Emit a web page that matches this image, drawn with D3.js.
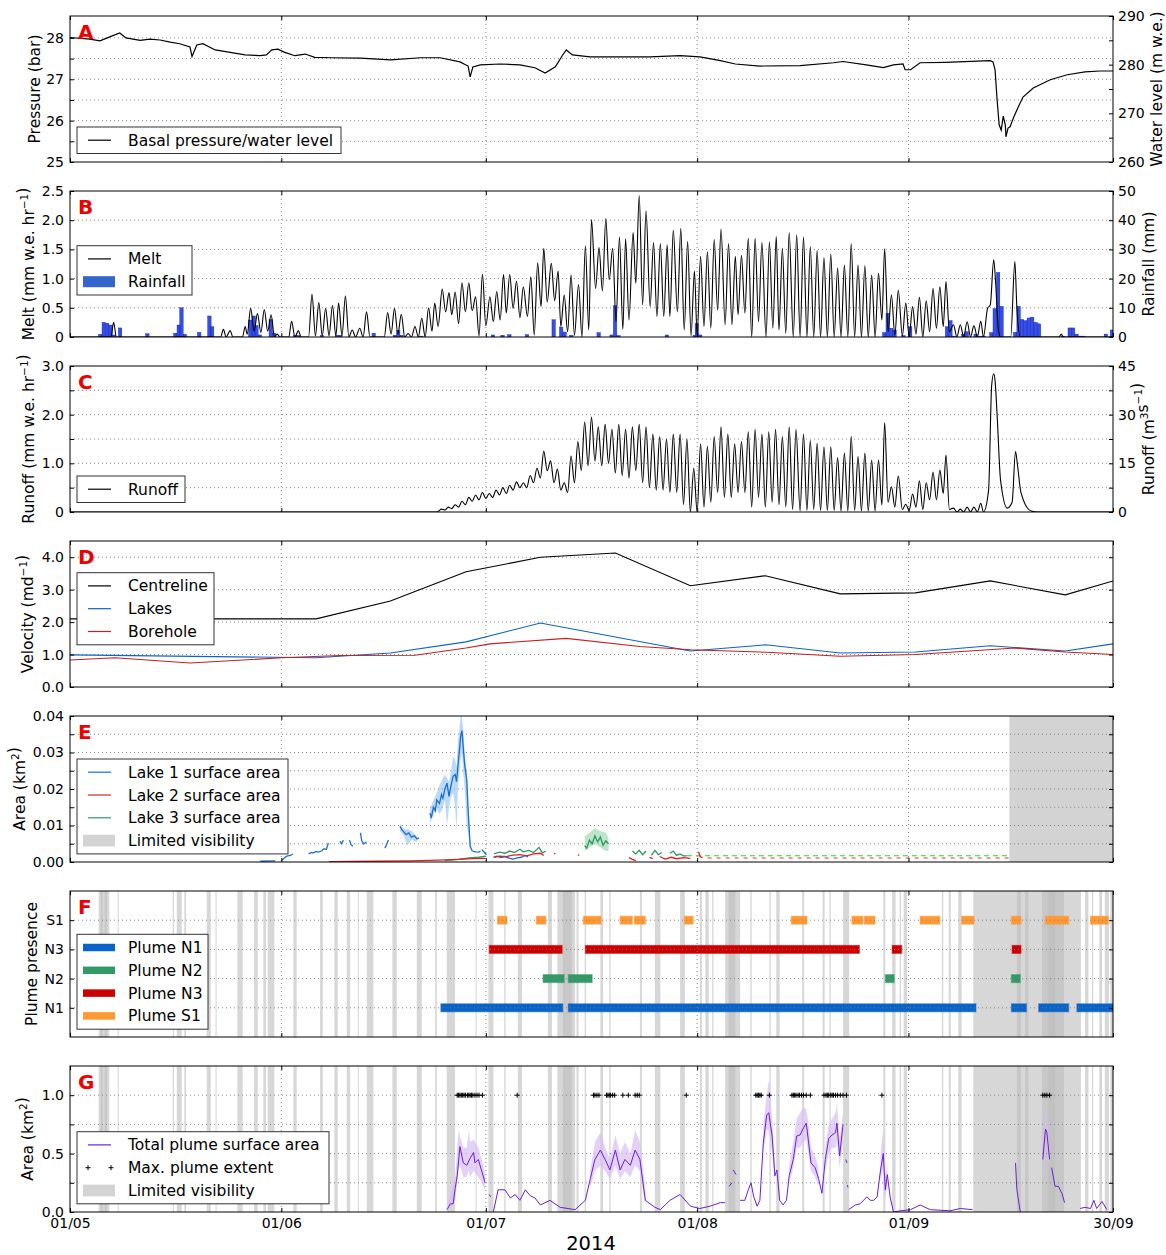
<!DOCTYPE html>
<html>
<head>
<meta charset="utf-8">
<title>Basal pressure, melt, runoff, velocity, lakes and plumes, 2014</title>
<script src="https://cdn.jsdelivr.net/npm/d3@7"></script>
<style>
  body { margin: 0; background: #fff; }
  text { font-family: "DejaVu Sans", sans-serif; }
</style>
</head>
<body>
<svg id="chart" width="1166" height="1255"></svg>
<script>
// all times are days since 01/05/2014 00:00
const dateTicks = [0, 31, 61, 92, 123, 153];
const dateLabels = ["01/05", "01/06", "01/07", "01/08", "01/09", "30/09"];

// A: basal pressure (bar)
const pressure = [
  [0,28.01],[2.9,27.97],[4.4,27.93],[6.2,28.05],[7.3,28.12],[8.2,28.0],[10.3,27.94],[11.7,27.97],
  [13.2,27.95],[14.7,27.90],[16.1,27.86],[17.6,27.78],[17.9,27.55],[18.6,27.83],[19.5,27.86],
  [21.3,27.71],[23.5,27.65],[25.7,27.59],[27.9,27.57],[28.8,27.59],[29.6,27.71],[30.5,27.73],
  [31.5,27.65],[33.0,27.57],[34.5,27.61],[35.9,27.53],[38.2,27.52],[42.6,27.51],[47.0,27.47],
  [51.4,27.52],[54.3,27.52],[57.2,27.42],[58.4,27.32],[58.7,27.06],[59.1,27.30],[60.2,27.35],
  [63.1,27.37],[66.0,27.35],[68.2,27.28],[69.7,27.15],[71.2,27.30],[72.2,27.57],[72.8,27.71],
  [73.7,27.59],[76.3,27.54],[80.7,27.54],[85.1,27.54],[89.5,27.57],[92.4,27.54],[95.4,27.45],
  [97.6,27.37],[101.2,27.32],[107.1,27.33],[112.0,27.40],[113.4,27.43],[116.8,27.35],[119.3,27.28],
  [120.8,27.35],[122.2,27.37],[122.5,27.23],[123.3,27.23],[124.7,27.40],[128.4,27.41],[135.0,27.45],
  [135.4,27.42],[135.7,27.23],[136.0,26.50],[136.3,25.90],[136.6,25.77],[136.9,26.11],[137.2,25.90],
  [137.3,25.61],[137.6,25.82],[137.9,25.85],[138.4,26.07],[139.1,26.33],[139.8,26.57],[141.3,26.79],
  [143.8,26.99],[146.3,27.11],[148.9,27.18],[151.1,27.20],[153.0,27.20]
];

// B: melt (mm w.e. hr-1), alternating daily troughs and peaks
const melt = [
  [0,0],[6.0,0],[6.4,0.25],[6.8,0],[22.1,0],[22.5,0.13],[22.9,0],[23.5,0.11],[23.9,0],[25.3,0],
  [25.7,0.18],[26.0,0.05],[26.5,0.49],[27.0,0.1],[27.5,0.40],[28.0,0.08],[28.5,0.47],[29.0,0.1],
  [29.5,0.38],[30.0,0],[30.4,0.05],[30.8,0],[32.1,0],[32.5,0.27],[33.0,0],[33.5,0.11],[33.9,0],
  [35.0,0],[35.5,0.73],[36.0,0.02],[36.5,0.59],[37.0,0.02],[37.5,0.49],[38.0,0.02],[38.5,0.54],
  [39.0,0.02],[39.4,0.58],[39.9,0.02],[40.4,0.70],[40.9,0],[41.4,0.12],[41.9,0],[42.5,0.15],
  [43.0,0],[43.5,0.43],[44.0,0],[46.1,0],[46.6,0.42],[47.1,0.05],[47.6,0.49],[48.1,0.05],
  [48.6,0.39],[49.1,0],[49.6,0.06],[50.1,0],[50.6,0.18],[51.1,0],[51.6,0.32],[52.1,0],[52.6,0.50],
  [53.1,0.1],[53.5,0.58],[54.0,0.18],[54.6,0.82],[55.1,0.43],[55.6,0.76],[56.0,0.38],[56.5,0.77],
  [57.0,0.23],[57.5,0.93],[58.0,0.43],[58.5,0.93],[59.0,0.45],[59.5,0.69],[60.0,0.02],[60.5,1.08],
  [61.0,0.19],[61.6,0.69],[62.1,0.26],[62.6,0.78],[63.1,0.29],[63.6,1.07],[64.0,0.41],[64.5,1.07],
  [65.0,0.49],[65.5,0.96],[66.0,0.33],[66.5,0.86],[67.1,0.35],[67.6,1.03],[68.1,0.03],[68.6,1.27],
  [69.1,0.52],[69.5,1.52],[70.0,0.60],[70.6,1.26],[71.1,0.62],[71.6,1.13],[72.0,0.18],[72.5,0.72],
  [73.0,0.09],[73.5,1.06],[74.0,0.03],[74.6,0.90],[75.1,0.0],[75.6,1.56],[76.1,0.12],[76.5,2.01],
  [77.1,0.83],[77.6,1.53],[78.1,0.79],[78.6,2.03],[79.1,0.98],[79.6,1.52],[80.1,0.26],[80.6,1.71],
  [81.1,0.13],[81.5,1.68],[82.0,0.29],[82.6,1.79],[83.0,0.92],[83.5,2.42],[84.0,0.55],[84.5,2.16],
  [85.1,0.52],[85.6,1.62],[86.1,0.35],[86.6,1.60],[87.1,0.35],[87.6,1.58],[88.0,0.35],[88.5,1.83],
  [89.1,0.43],[89.6,1.86],[90.1,0.12],[90.6,1.64],[91.1,0.02],[91.6,1.13],[92.0,0.03],[92.5,1.38],
  [93.0,0.18],[93.5,1.46],[94.0,0.15],[94.5,1.67],[95.0,0.46],[95.5,1.85],[96.1,0.21],[96.6,1.60],
  [97.1,0.21],[97.6,1.38],[98.0,0.38],[98.5,1.40],[99.0,0.41],[99.5,1.69],[100.0,0],[100.5,1.69],
  [101.0,0.26],[101.5,1.62],[102.1,0],[102.6,1.63],[103.1,0.15],[103.6,1.72],[104.0,0.12],[104.5,1.52],
  [105.0,0.06],[105.5,1.79],[106.1,0],[106.6,1.75],[107.1,0],[107.6,1.71],[108.1,0],[108.6,1.55],
  [109.1,0],[109.6,1.48],[110.1,0],[110.6,1.36],[111.1,0],[111.6,1.42],[112.1,0],[112.6,1.18],
  [113.1,0],[113.6,1.23],[114.1,0],[114.6,1.60],[115.1,0],[115.6,1.23],[116.1,0],[116.6,1.22],
  [117.1,0],[117.6,1.06],[118.1,0],[118.6,1.09],[119.1,0.29],[119.5,1.51],[120.0,0.09],[120.5,0.72],
  [121.0,0.03],[121.5,0.80],[122.1,0.02],[122.6,0.58],[123.1,0],[123.6,0.52],[124.1,0.05],[124.6,0.68],
  [125.1,0],[125.6,0.62],[126.1,0.09],[126.6,0.83],[127.1,0.15],[127.6,0.86],[128.1,0.18],[128.5,0.95],
  [129.0,0.09],[129.6,0.21],[130.1,0],[130.6,0.21],[131.1,0],[131.6,0.26],[132.1,0],[132.6,0.19],
  [133.1,0],[133.6,0.27],[134.0,0],[134.6,0.49],[135.0,0.55],[135.5,1.32],[135.8,0.9],[136.2,0.1],
  [136.5,0],[138.0,0],[138.6,1.29],[138.9,0.5],[139.4,0],[145.1,0],[145.4,0.05],[145.7,0],[153,0]
];

// B: rainfall (mm per half day), [bin start, mm]
const rainfall = [
  [4.2,0.9],[4.7,5.0],[5.2,4.7],[5.7,4.1],[6.2,0.7],[7.1,3.1],[11.1,1.1],[15.2,1.3],[15.7,4.1],
  [16.1,10.0],[16.6,0.9],[18.7,1.6],[20.2,7.2],[20.6,3.5],[26.2,5.8],[26.7,7.2],[27.1,3.9],[27.6,0.7],
  [29.2,6.0],[29.7,1.3],[32.8,0.5],[33.3,0.5],[36.7,0.5],[38.9,0.6],[39.4,0.6],[44.3,1.3],[47.4,0.6],
  [47.9,2.2],[48.4,0.6],[51.3,0.3],[61.8,0.7],[63.2,0.6],[64.2,0.8],[66.8,0.8],[70.7,5.9],[71.8,3.4],
  [72.3,1.7],[73.3,0.6],[77.3,1.5],[79.2,0.7],[79.7,10.7],[80.2,0.5],[87.3,0.7],[91.4,0.6],[91.7,4.6],
  [92.2,0.7],[119.2,1.5],[119.7,8.1],[120.2,3.0],[120.7,2.4],[122.0,0.5],[123.0,3.5],[128.4,3.5],
  [128.9,5.6],[129.4,0.3],[130.8,1.0],[131.3,1.8],[132.6,1.0],[133.3,0.3],[133.8,0.3],[134.9,1.5],
  [135.4,9.7],[135.9,22.1],[136.4,10.5],[138.4,1.6],[138.9,10.5],[139.4,6.0],[139.9,5.6],[140.4,6.5],
  [140.9,6.8],[141.4,5.0],[141.9,4.5],[145.4,0.3],[146.4,3.1],[146.9,3.1],[147.4,1.0],[147.9,0.3],
  [148.4,0.3],[151.7,1.0],[152.6,2.4]
];

// C: runoff (mm w.e. hr-1)
const runoff = [
  [0,0],[53.8,0],[54.5,0.06],[55,0.04],[55.5,0.1],[56,0.07],[56.5,0.15],[57,0.1],[57.5,0.22],[58,0.15],
  [58.5,0.3],[59,0.22],[59.5,0.35],[60,0.25],[60.5,0.4],[61,0.28],[61.5,0.38],[62,0.3],[62.5,0.45],
  [63,0.35],[63.5,0.5],[64,0.38],[64.5,0.55],[65,0.45],[65.5,0.62],[66,0.5],[66.5,0.6],[67,0.5],
  [67.5,0.75],[68,0.6],[68.5,0.9],[69,0.7],[69.5,1.25],[70,0.85],[70.5,1.05],[71,0.6],[71.5,0.88],
  [72,0.45],[72.5,0.6],[73,0.4],[73.5,1.15],[74,0.6],[74.5,1.45],[75,0.85],[75.5,1.85],[76,0.95],
  [76.5,1.95],[77,1.05],[77.5,1.75],[78,0.95],[78.5,1.8],[79,1.0],[79.5,1.7],[80,0.8],[80.5,1.8],
  [81,0.75],[81.5,1.7],[82,0.7],[82.5,1.75],[83,0.85],[83.5,1.8],[84,0.6],[84.5,1.75],[85,0.5],
  [85.5,1.6],[86,0.45],[86.5,1.55],[87,0.45],[87.5,1.5],[88,0.4],[88.5,1.6],[89,0.4],[89.5,1.6],
  [90,0.15],[90.5,1.5],[91,0],[91.5,0.9],[92,0],[92.5,1.4],[93,0.1],[93.5,1.35],[94,0.2],[94.5,1.55],
  [95,0.4],[95.5,1.75],[96,0.3],[96.5,1.6],[97,0.3],[97.5,1.4],[98,0.4],[98.5,1.45],[99,0.4],
  [99.5,1.65],[100,0.1],[100.5,1.7],[101,0.3],[101.5,1.6],[102,0.1],[102.5,1.65],[103,0.2],[103.5,1.7],
  [104,0.15],[104.5,1.55],[105,0.1],[105.5,1.75],[106,0.05],[106.5,1.7],[107.1,0.02],[107.6,1.60],
  [108.1,0.03],[108.6,1.47],[109.1,0.05],[109.6,1.41],[110.1,0.03],[110.6,1.34],[111.1,0.03],[111.6,1.34],
  [112.1,0.03],[112.6,1.12],[113.1,0.02],[113.6,1.21],[114.1,0.02],[114.6,1.55],[115.1,0.03],[115.6,1.14],
  [116.1,0.02],[116.6,1.21],[117.1,0.02],[117.6,1.07],[118.1,0.02],[118.6,1.07],[119.1,0.14],[119.5,1.84],
  [120.0,0.2],[120.5,0.52],[121.0,0.1],[121.5,0.74],[122.1,0.05],[122.6,0.16],[123.1,0.03],[123.6,0.37],
  [124.1,0.1],[124.6,0.64],[125.1,0.05],[125.6,0.60],[126.1,0.25],[126.6,0.82],[127.1,0.25],[127.6,0.86],
  [128.1,0.38],[128.5,1.17],[129.0,0.05],[129.6,0.08],[130.1,0],[130.6,0.06],[131.1,0],[131.6,0.1],
  [132.1,0],[132.6,0.1],[133.1,0],[133.6,0.18],[134.0,0],[134.75,0.45],[135.2,2.6],[135.5,2.84],
  [135.7,2.7],[136.0,2.0],[136.5,0.66],[137.5,0.08],[138.2,0.2],[138.7,1.24],[139.0,0.95],[139.5,0.4],
  [141.0,0.02],[142,0],[153,0]
];

// D: velocity (m d-1)
const velDays   = [0, 36.1, 47.0, 58.1, 69.0, 80.0, 91.0, 102.0, 113.0, 124.0, 135.0, 146.0, 153];
const centreline = [2.1, 2.1, 2.65, 3.55, 4.0, 4.13, 3.12, 3.43, 2.87, 2.9, 3.27, 2.84, 3.27];
const lakesVel   = [0.99, 0.9, 1.05, 1.39, 1.97, 1.54, 1.11, 1.3, 1.05, 1.08, 1.27, 1.11, 1.33];
const boreDays  = [0, 6.6, 17.6, 31.1, 39.6, 50.6, 58.1, 61.6, 72.8, 83.6, 91.0, 101.2, 113.0, 124.0, 138.7, 146.0, 153];
const borehole  = [0.83, 0.9, 0.74, 0.9, 0.97, 0.98, 1.2, 1.33, 1.5, 1.25, 1.15, 1.08, 0.95, 1.0, 1.2, 1.08, 1.0];

// E: lake surface areas (km2), null = gap
const lake1 = [
  [27.9,0.0002],[30.1,0.0003],null,
  [31.1,0.0005],[31.5,0.0012],[31.8,0.0016],[32.3,0.0018],[32.7,0.0022],null,
  [35.0,0.0022],[35.4,0.0026],[35.7,0.0025],[36.1,0.0029],[36.4,0.0027],[36.9,0.0030],[37.2,0.0036],[37.6,0.0035],[37.9,0.0052],null,
  [39.6,0.0057],[39.8,0.0050],[40.1,0.0060],null,
  [41.0,0.0060],[41.2,0.0048],[41.5,0.0043],null,
  [42.6,0.0080],[42.8,0.0058],[43.1,0.0050],[43.5,0.0055],null,
  [46.2,0.0038],[46.5,0.0050],[46.7,0.0060],null,
  [48.4,0.0098],[48.7,0.0088],[49.0,0.0082],[49.3,0.0075],[49.7,0.0080],[50.1,0.0068],[50.5,0.0072],[50.9,0.0063],[51.2,0.0066],null,
  [52.8,0.0134],[53.0,0.0120],[53.3,0.0150],[53.6,0.0140],[53.8,0.0170],[54.2,0.0160],[54.5,0.0185],[54.7,0.0175],
  [55.0,0.0200],[55.3,0.0216],[55.6,0.0180],[55.9,0.0210],[56.2,0.0235],[56.5,0.0240],[56.7,0.0220],[56.9,0.0262],
  [57.1,0.0300],[57.3,0.0345],[57.5,0.0360],[57.7,0.0310],[57.9,0.0265],[58.2,0.0225],[58.4,0.0143],[58.7,0.0043],
  [59.0,0.0030],[59.5,0.0028],[60.0,0.0027],[60.2,0.0030],null,
  [60.4,0.0034],[60.7,0.0028],[61.1,0.0020],null,
  [62.1,0.0013],[62.6,0.0016],[63.2,0.0012],[63.8,0.0015],[64.5,0.0010],[65.0,0.0008],[65.6,0.0011],[66.2,0.0013],[66.8,0.0018],[67.2,0.0014]
];
const lake1Band = [
  [48.4,0.0085,0.0105],[49.0,0.0070,0.0090],[49.5,0.0045,0.0090],[50.1,0.0060,0.0085],[50.9,0.0055,0.0070],null,
  [52.8,0.0105,0.0145],[53.3,0.0130,0.0170],[53.8,0.0150,0.0190],[54.2,0.0130,0.0210],[54.7,0.0150,0.0230],
  [55.0,0.0170,0.0240],[55.3,0.0100,0.0230],[55.6,0.0150,0.0220],[55.9,0.0180,0.0250],[56.2,0.0190,0.0290],
  [56.5,0.0150,0.0280],[56.7,0.0080,0.0260],[56.9,0.0200,0.0330],[57.1,0.0240,0.0360],[57.3,0.0280,0.0400],
  [57.5,0.0300,0.0400],[57.7,0.0240,0.0360],[57.9,0.0200,0.0300],[58.2,0.0100,0.0250],[58.4,0.0080,0.0170],
  [58.7,0.0030,0.0060]
];
const lake2 = [
  [38,0.0001],[45,0.0002],[50,0.0003],[54,0.0005],[57,0.0007],[59,0.0009],[61,0.0010],null,
  [62.2,0.0013],[63,0.0016],[64,0.0015],[65,0.0019],[66,0.0020],[67,0.0017],[68,0.0022],[69,0.0024],[69.5,0.0018],null,
  [71.0,0.0024],[71.2,0.0022],null,[74.5,0.0020],[74.7,0.0018],null,
  [82.0,0.0012],[82.5,0.0007],[83,0.0004],null,[85,0.0012],[85.5,0.0010],null,
  [86.5,0.0015],[87.3,0.0008],[88.2,0.0013],[89,0.0009],[90,0.0012],[91.0,0.0010],null,
  [92.2,0.0028],[92.4,0.0015],[92.8,0.0012]
];
const lake2Tail = [[92.8,0.0011],[137.8,0.0011]];
const lake3 = [
  [55,0.0004],[57,0.0007],[58.5,0.0011],[60,0.0013],[61,0.0016],null,
  [62.2,0.0022],[63,0.0027],[63.8,0.0024],[64.5,0.0030],[65.2,0.0026],[66,0.0035],[66.5,0.0028],[67.3,0.0032],
  [68,0.0026],[68.8,0.0040],[69.3,0.0025],[69.8,0.0030],null,
  [75.5,0.0045],[75.8,0.0038],[76.2,0.0060],[76.6,0.0050],[77.0,0.0072],[77.4,0.0055],[77.8,0.0068],[78.2,0.0046],
  [78.6,0.0058],[79.0,0.0050],null,
  [82.5,0.0030],[83.0,0.0022],[83.5,0.0032],[84.0,0.0020],[84.5,0.0030],null,
  [85.3,0.0018],[85.8,0.0032],[86.3,0.0020],[86.8,0.0026],null,
  [88.0,0.0024],[88.5,0.0030],[89.0,0.0018],[89.5,0.0022],[90.0,0.0017],[90.5,0.0017]
];
const lake3Band = [[75.5,0.0030,0.0070],[76.2,0.0040,0.0080],[77.0,0.0050,0.0093],[77.8,0.0040,0.0085],[78.6,0.0030,0.0080],[79.0,0.0030,0.0065]];
const lake3Tail = [[90.5,0.0017],[137.8,0.0017]];
const lakeLimited = [137.8, 153];

// F and G: limited visibility periods [start, end]
const visBands = [
  [4.21,5.77],[4.5,4.8],[5.1,5.4],[7.0,7.15],[15.07,15.26],[15.66,16.39],[16.77,17.02],[20.06,20.65],
  [21.35,21.5],[24.55,25.34],[27.0,27.54],[28.36,28.76],[29.0,29.98],[32.77,33.26],[36.68,37.08],
  [38.78,39.28],[40.6,41.09],[42.22,42.37],[43.54,44.5],[47.29,47.94],[50.87,51.61],[53.56,53.81],
  [55.27,56.49],[59.5,59.65],[61.38,62.11],[63.7,63.9],[65.7,66.3],[70.1,70.7],[71.5,74.1],[72.3,73.6],
  [74.3,74.6],[75.5,75.7],[77.8,78.2],[79.1,79.3],[83.6,83.9],[85.8,86.6],[89.5,90.2],[92.4,92.7],
  [93.2,93.7],[94.2,94.4],[96.1,98.3],[96.6,97.6],[99.8,100.0],[102.6,102.8],[103.6,104.1],[107.4,107.7],
  [110.4,110.7],[111.4,111.6],[113.4,114.3],[119.3,119.6],[120.6,121.1],[121.7,121.9],[122.3,122.8],
  [127.9,128.1],[128.9,129.2],[130.3,130.8],[132.5,148.3],[138.9,139.5],[140.1,140.6],[142.6,145.8],
  [143.5,144.5],[148.9,149.4],[149.9,150.1],[151.0,151.4],[151.8,152.4],[152.6,153]
];

// F: plume presence periods
const plumeNames = ["N1", "N2", "N3", "S1"];
const plumeColors = ["#0a64c8", "#339966", "#cc0000", "#ff9933"];
const plumePeriods = [
  [[54.4,72.3],[73.1,132.9],[138.1,140.3],[142.1,146.5],[147.7,153]],
  [[69.4,72.5],[73.1,76.6],[119.6,120.9],[138.1,139.4]],
  [[61.5,72.2],[75.6,115.8],[120.6,122.0],[138.2,139.5]],
  [[62.7,64.1],[68.4,69.8],[75.3,77.9],[80.7,82.5],[82.8,84.4],[90.1,91.4],[105.8,108.1],[114.7,116.3],
   [116.5,118.1],[124.7,127.6],[130.8,132.6],[138.1,139.5],[143.1,146.5],[149.7,152.3]]
];

// G: total plume surface area (km2)
const plumeArea = [
  [55.3,0.02],[55.8,0.07],[56.2,0.07],[56.5,0.2],[56.8,0.31],[57.2,0.56],[57.7,0.42],[58.2,0.40],[58.7,0.46],
  [59.2,0.51],[59.4,0.42],[59.9,0.45],[60.4,0.35],[60.9,0.25],null,[61.5,0.15],[61.7,0.13],null,
  [62.1,0.0],[62.8,0.19],[63.8,0.19],[64.6,0.12],[65.3,0.15],[66.0,0.1],[66.8,0.19],[67.5,0.14],[68.2,0.12],
  [69.0,0.06],[70.4,0.1],[71.9,0.04],[74.1,0.02],[75.6,0.1],[76.3,0.28],[77.0,0.45],[77.8,0.53],[78.5,0.45],
  [79.2,0.36],[80.0,0.53],[80.7,0.36],[81.4,0.45],[82.2,0.40],[82.9,0.53],[83.6,0.45],[84.4,0.1],[85.8,0.04],
  [86.6,0.02],[88.0,0.1],[89.5,0.15],[91.0,0.05],[92.4,0.03],[93.9,0.05],[95.4,0.08],[96.1,0.08],null,
  [96.7,0.22],[97.1,0.25],null,[97.3,0.36],[97.7,0.32],null,
  [98.3,0.1],[99.0,0.1],[99.5,0.19],[99.9,0.25],[100.3,0.13],[100.8,0.05],[101.2,0.1],[101.7,0.59],[102.2,0.83],
  [102.5,0.85],[103.0,0.65],[103.4,0.31],[103.7,0.36],[104.1,0.1],[104.6,0.06],[105.1,0.1],[105.5,0.31],
  [106.1,0.45],[106.6,0.65],[107.1,0.66],[107.6,0.72],[108.0,0.76],[108.3,0.62],[108.7,0.42],[109.3,0.38],
  [109.8,0.29],[110.3,0.16],[110.8,0.45],[111.3,0.63],[111.8,0.66],[112.3,0.68],[112.5,0.76],[112.9,0.48],
  [113.4,0.75],null,[113.8,0.45],[113.95,0.42],null,[114.05,0.23],[114.12,0.21],null,
  [114.2,0.02],[115.2,0.06],[115.9,0.07],[116.9,0.13],[117.4,0.1],[117.9,0.1],[118.4,0.13],[118.9,0.36],
  [119.3,0.5],[119.6,0.19],[119.9,0.32],[120.3,0.13],[120.8,0.0],[121.8,0.01],[123.3,0.02],[124.7,0.06],
  [126.2,0.02],[129.1,0.01],[130.6,0.03],[132.4,0.02],null,
  [138.7,0.42],[138.9,0.19],[139.4,0.0],null,
  [142.7,0.45],[143.1,0.71],[143.3,0.68],[143.7,0.45],null,[144.0,0.38],[144.5,0.22],[145.0,0.22],[145.5,0.16],[145.9,0.08],null,
  [148.2,0.03],[148.9,0.04],[149.7,0.03],[150.2,0.1],[150.6,0.03],[151.4,0.09],[152.1,0.02]
];
const plumeBand = [
  [55.5,0.02,0.1],[56.5,0.1,0.3],[57.0,0.35,0.7],[57.2,0.4,0.65],[57.7,0.3,0.55],[58.2,0.3,0.55],[58.5,0.35,0.7],
  [58.7,0.3,0.6],[59.2,0.35,0.62],[59.9,0.3,0.55],[60.4,0.25,0.45],[60.9,0.18,0.32],null,
  [76.3,0.2,0.35],[77.0,0.35,0.6],[77.8,0.4,0.68],[78.5,0.35,0.55],[79.2,0.28,0.45],[80.0,0.4,0.66],[80.7,0.28,0.5],
  [81.4,0.35,0.6],[82.2,0.3,0.5],[82.9,0.4,0.7],[83.6,0.35,0.6],[84.4,0.05,0.2],null,
  [101.7,0.5,0.75],[102.2,0.7,1.0],[102.5,0.7,1.13],[103.0,0.5,0.8],[103.4,0.25,0.4],null,
  [105.5,0.25,0.4],[106.1,0.38,0.6],[106.6,0.55,0.8],[107.1,0.55,0.85],[107.6,0.6,0.9],[108.0,0.62,0.88],
  [108.3,0.5,0.78],[108.7,0.35,0.55],[109.3,0.3,0.48],[109.8,0.22,0.38],null,
  [110.8,0.35,0.55],[111.3,0.5,0.75],[111.8,0.55,0.8],[112.3,0.55,0.85],[112.5,0.6,0.93],[112.9,0.38,0.62],[113.4,0.6,0.85],null,
  [118.9,0.25,0.5],[119.3,0.38,0.72],[119.6,0.12,0.3],[119.9,0.22,0.42],null,
  [142.7,0.35,0.6],[143.1,0.6,0.88],[143.3,0.55,0.8],[143.7,0.35,0.55]
];
const maxExtent = [
  56.8,57.0,57.2,57.4,57.6,57.8,58.0,58.3,58.5,58.7,58.9,59.1,59.4,59.7,60.0,60.5,65.6,
  76.8,77.0,77.3,77.6,78.7,78.9,79.1,79.3,79.6,79.9,81.1,81.9,82.9,83.2,83.5,90.4,
  100.6,100.8,101.0,101.2,101.4,102.6,105.9,106.1,106.3,106.5,106.8,107.0,107.3,107.6,108.0,108.6,
  110.6,110.9,111.1,111.3,111.6,111.8,112.0,112.3,112.6,113.0,113.4,113.9,119.1,142.7,143.0,143.3,143.7
];

// ---------------------------------------------------------------------------
const FONT = '"DejaVu Sans", sans-serif';
const X0 = 70, X1 = 1113, PH = 146;
const TOPS = [16, 191, 366, 541, 716, 891, 1066];
const svg = d3.select("#chart");
const defs = svg.append("defs");
const x = d3.scaleLinear().domain([0, 153]).range([X0, X1]);

function makePanel(i, domain) {
  const top = TOPS[i], bot = top + PH;
  const y = d3.scaleLinear().domain(domain).range([bot, top]);
  defs.append("clipPath").attr("id", "clip" + i).append("rect")
    .attr("x", X0).attr("y", top).attr("width", X1 - X0).attr("height", PH);
  const g = svg.append("g");
  const bg = g.append("g").attr("clip-path", `url(#clip${i})`);
  const grid = g.append("g");
  const fg = g.append("g").attr("clip-path", `url(#clip${i})`);
  const ax = g.append("g");
  return { i, y, top, bot, g, bg, grid, fg, ax };
}

function drawGrid(p, vals) {
  p.grid.selectAll(".h").data(vals).join("line")
    .attr("x1", X0).attr("x2", X1).attr("y1", d => p.y(d)).attr("y2", d => p.y(d));
  p.grid.selectAll(".v").data(dateTicks.slice(1, 5)).join("line").attr("class", "v")
    .attr("x1", d => x(d)).attr("x2", d => x(d)).attr("y1", p.top).attr("y2", p.bot);
  p.grid.selectAll("line").attr("stroke", "#7a7a7a").attr("stroke-width", 0.9)
    .attr("stroke-dasharray", "1,3");
}

function styleAxis(sel) {
  sel.attr("font-family", FONT).attr("font-size", 14);
  sel.select(".domain").remove();
  sel.selectAll(".tick line").attr("stroke", "#000");
  sel.selectAll(".tick text").attr("fill", "#000");
}

function drawAxes(p, cfg) {
  const left = d3.axisLeft(p.y).tickValues(cfg.ticks).tickFormat(cfg.fmt)
    .tickSizeInner(-4).tickSizeOuter(0).tickPadding(6);
  p.ax.append("g").attr("transform", `translate(${X0},0)`).call(left).call(styleAxis);
  if (cfg.minor) {
    p.ax.append("g").attr("transform", `translate(${X0},0)`)
      .call(d3.axisLeft(p.y).tickValues(cfg.minor).tickFormat("").tickSizeInner(-4).tickSizeOuter(0)).call(styleAxis);
  }
  if (cfg.right) {
    const yr = d3.scaleLinear().domain(cfg.right.domain).range([p.bot, p.top]);
    p.ax.append("g").attr("transform", `translate(${X1},0)`)
      .call(d3.axisRight(yr).tickValues(cfg.right.ticks).tickSizeInner(-4).tickSizeOuter(0).tickPadding(5))
      .call(styleAxis);
    if (cfg.right.minor) {
      p.ax.append("g").attr("transform", `translate(${X1},0)`)
        .call(d3.axisRight(yr).tickValues(cfg.right.minor).tickFormat("").tickSizeInner(-4).tickSizeOuter(0)).call(styleAxis);
    }
  } else {
    p.ax.append("g").attr("transform", `translate(${X1},0)`)
      .call(d3.axisRight(p.y).tickValues(cfg.ticks.concat(cfg.minor || [])).tickFormat("").tickSizeInner(-4).tickSizeOuter(0))
      .call(styleAxis);
  }
  p.ax.append("g").attr("transform", `translate(0,${p.top})`)
    .call(d3.axisTop(x).tickValues(dateTicks).tickFormat("").tickSizeInner(-4).tickSizeOuter(0)).call(styleAxis);
  const bottom = d3.axisBottom(x).tickValues(dateTicks).tickSizeInner(-4).tickSizeOuter(0).tickPadding(6)
    .tickFormat((d, k) => cfg.dates ? dateLabels[k] : "");
  p.ax.append("g").attr("transform", `translate(0,${p.bot})`).call(bottom).call(styleAxis);
  p.ax.append("rect").attr("x", X0).attr("y", p.top).attr("width", X1 - X0).attr("height", PH)
    .attr("fill", "none").attr("stroke", "#000").attr("stroke-width", 1);
  p.ax.append("text").attr("x", 78).attr("y", p.top + 23)
    .attr("font-size", 20).attr("font-weight", "bold").attr("fill", "#ee0000").text(cfg.letter);
}

function axisTitle(cx, cy, parts) {
  const t = svg.append("text").attr("transform", `translate(${cx},${cy}) rotate(-90)`)
    .attr("text-anchor", "middle").attr("dy", "0.35em").attr("font-size", 15.5).attr("fill", "#000");
  parts.forEach(pt => {
    if (Array.isArray(pt)) {
      t.append("tspan").attr("dy", -6).attr("font-size", 10.5).text(pt[0]);
      t.append("tspan").attr("dy", 6).text("");
    } else {
      t.append("tspan").text(pt);
    }
  });
}

function legend(p, x0, dyTop, width, entries) {
  const y0 = p.top + dyTop;
  const h = 26.5 + (entries.length - 1) * 22.8;
  const lg = p.ax.append("g");
  lg.append("rect").attr("x", x0).attr("y", y0).attr("width", width).attr("height", h)
    .attr("fill", "#fff").attr("stroke", "#333").attr("stroke-width", 1);
  entries.forEach((e, k) => {
    const ey = y0 + 13.2 + k * 22.8;
    if (e.type === "line") {
      lg.append("line").attr("x1", x0 + 11).attr("x2", x0 + 34).attr("y1", ey).attr("y2", ey)
        .attr("stroke", e.color).attr("stroke-width", 1.2);
    } else if (e.type === "patch") {
      lg.append("rect").attr("x", x0 + 6).attr("y", ey - e.h / 2).attr("width", 32).attr("height", e.h)
        .attr("fill", e.color);
    } else if (e.type === "plus") {
      [x0 + 11, x0 + 34].forEach(px => lg.append("path")
        .attr("d", `M${px - 2.5},${ey}H${px + 2.5}M${px},${ey - 2.5}V${ey + 2.5}`)
        .attr("stroke", "#000").attr("stroke-width", 1));
    }
    lg.append("text").attr("x", x0 + 51).attr("y", ey + 5.5).attr("font-size", 15.5)
      .attr("fill", "#000").text(e.label);
  });
}

const line = (yS, curve) => d3.line().defined(d => d !== null)
  .x(d => x(d[0])).y(d => yS(d[1])).curve(curve || d3.curveLinear);
const band = (yS) => d3.area().defined(d => d !== null)
  .x(d => x(d[0])).y0(d => yS(d[1])).y1(d => yS(d[2]));
const fmt1 = d3.format(".1f");

// ---- A ----
const pA = makePanel(0, [25, 28.53]);
drawGrid(pA, [25.5, 26, 26.5, 27, 27.5, 28]);
pA.fg.append("path").datum(pressure).attr("d", line(pA.y))
  .attr("fill", "none").attr("stroke", "#000").attr("stroke-width", 1.2);
drawAxes(pA, { ticks: [25, 26, 27, 28], minor: [25.5, 26.5, 27.5], fmt: d3.format("d"), letter: "A",
  right: { domain: [260, 290], ticks: [260, 270, 280, 290], minor: [265, 275, 285] } });
legend(pA, 77, 111, 264, [{ type: "line", color: "#000", label: "Basal pressure/water level" }]);
axisTitle(35, pA.top + PH / 2, ["Pressure (bar)"]);
axisTitle(1157, pA.top + PH / 2, ["Water level (m w.e.)"]);

// ---- B ----
const pB = makePanel(1, [0, 2.5]);
const yRain = d3.scaleLinear().domain([0, 50]).range([pB.bot, pB.top]);
drawGrid(pB, [0.5, 1.0, 1.5, 2.0]);
pB.fg.selectAll("rect.rain").data(rainfall).join("rect").attr("class", "rain")
  .attr("x", d => x(d[0])).attr("width", d => x(d[0] + 0.5) - x(d[0]))
  .attr("y", d => yRain(d[1])).attr("height", d => pB.bot - yRain(d[1]))
  .attr("fill", "#1f3ce6").attr("fill-opacity", 0.9).attr("stroke", "#1020b0").attr("stroke-width", 0.4);
pB.fg.append("path").datum(melt).attr("d", line(pB.y, d3.curveMonotoneX))
  .attr("fill", "none").attr("stroke", "#000").attr("stroke-width", 1.1);
drawAxes(pB, { ticks: [0, 0.5, 1.0, 1.5, 2.0, 2.5], fmt: d => d === 0 ? "0" : fmt1(d), letter: "B",
  right: { domain: [0, 50], ticks: [0, 10, 20, 30, 40, 50] } });
legend(pB, 77, 54.7, 115, [
  { type: "line", color: "#000", label: "Melt" },
  { type: "patch", color: "#3366cc", h: 11, label: "Rainfall" }]);
axisTitle(29, pB.top + PH / 2, ["Melt (mm w.e. hr", ["\u22121"], ")"]);
axisTitle(1149, pB.top + PH / 2, ["Rainfall (mm)"]);

// ---- C ----
const pC = makePanel(2, [0, 3.0]);
drawGrid(pC, [0.5, 1.0, 1.5, 2.0, 2.5]);
pC.fg.append("path").datum(runoff).attr("d", line(pC.y, d3.curveMonotoneX))
  .attr("fill", "none").attr("stroke", "#000").attr("stroke-width", 1.1);
drawAxes(pC, { ticks: [0, 1, 2, 3], minor: [0.5, 1.5, 2.5], fmt: d => d === 0 ? "0" : fmt1(d), letter: "C",
  right: { domain: [0, 45], ticks: [0, 15, 30, 45], minor: [7.5, 22.5, 37.5] } });
legend(pC, 77, 110, 108, [{ type: "line", color: "#000", label: "Runoff" }]);
axisTitle(29, pC.top + PH / 2, ["Runoff (mm w.e. hr", ["\u22121"], ")"]);
axisTitle(1149, pC.top + PH / 2, ["Runoff (m", ["3"], "s", ["\u22121"], ")"]);

// ---- D ----
const pD = makePanel(3, [0, 4.5]);
drawGrid(pD, [1, 2, 3, 4]);
const velLine = d3.line().x(d => x(d[0])).y(d => pD.y(d[1]));
pD.fg.append("path").datum(d3.zip(velDays, lakesVel)).attr("d", velLine)
  .attr("fill", "none").attr("stroke", "#0b63c5").attr("stroke-width", 1.1);
pD.fg.append("path").datum(d3.zip(boreDays, borehole)).attr("d", velLine)
  .attr("fill", "none").attr("stroke", "#c81e1e").attr("stroke-width", 1.1);
pD.fg.append("path").datum(d3.zip(velDays, centreline)).attr("d", velLine)
  .attr("fill", "none").attr("stroke", "#000").attr("stroke-width", 1.1);
drawAxes(pD, { ticks: [0, 1, 2, 3, 4], fmt: fmt1, letter: "D" });
legend(pD, 77, 31.7, 137, [
  { type: "line", color: "#000", label: "Centreline" },
  { type: "line", color: "#0b63c5", label: "Lakes" },
  { type: "line", color: "#c81e1e", label: "Borehole" }]);
axisTitle(28, pD.top + PH / 2, ["Velocity (md", ["\u22121"], ")"]);

// ---- E ----
const pE = makePanel(4, [0, 0.04]);
pE.bg.append("rect").attr("x", x(lakeLimited[0])).attr("width", x(lakeLimited[1]) - x(lakeLimited[0]))
  .attr("y", pE.top).attr("height", PH).attr("fill", "#d3d3d3");
drawGrid(pE, [0.005, 0.01, 0.015, 0.02, 0.025, 0.03, 0.035]);
pE.fg.append("path").datum(lake1Band).attr("d", band(pE.y)).attr("fill", "#8fbff0").attr("fill-opacity", 0.6);
pE.fg.append("path").datum(lake3Band).attr("d", band(pE.y)).attr("fill", "#8fd4aa").attr("fill-opacity", 0.6);
pE.fg.append("path").datum(lake3Tail).attr("d", line(pE.y)).attr("fill", "none")
  .attr("stroke", "#22dd22").attr("stroke-width", 1.1).attr("stroke-dasharray", "5,4");
pE.fg.append("path").datum(lake2Tail).attr("d", line(pE.y)).attr("fill", "none")
  .attr("stroke", "#ee3333").attr("stroke-width", 1.1).attr("stroke-dasharray", "4,5").attr("stroke-dashoffset", 4);
pE.fg.append("path").datum(lake1).attr("d", line(pE.y)).attr("fill", "none")
  .attr("stroke", "#1a6ed0").attr("stroke-width", 1.3);
pE.fg.append("path").datum(lake3).attr("d", line(pE.y)).attr("fill", "none")
  .attr("stroke", "#2e9960").attr("stroke-width", 1.3);
pE.fg.append("path").datum(lake2).attr("d", line(pE.y)).attr("fill", "none")
  .attr("stroke", "#dd2222").attr("stroke-width", 1.3);
drawAxes(pE, { ticks: [0, 0.01, 0.02, 0.03, 0.04], minor: [0.005, 0.015, 0.025, 0.035], fmt: d3.format(".2f"), letter: "E" });
legend(pE, 77, 43, 211, [
  { type: "line", color: "#1a6ed0", label: "Lake 1 surface area" },
  { type: "line", color: "#dd2222", label: "Lake 2 surface area" },
  { type: "line", color: "#2e9960", label: "Lake 3 surface area" },
  { type: "patch", color: "#d3d3d3", h: 11.7, label: "Limited visibility" }]);
axisTitle(20, pE.top + PH / 2, ["Area (km", ["2"], ")"]);

// ---- F ----
const pF = makePanel(5, [0, 5]);
function drawVis(p) {
  p.bg.selectAll("rect.vis").data(visBands).join("rect").attr("class", "vis")
    .attr("x", d => x(d[0])).attr("width", d => Math.max(1, x(d[1]) - x(d[0])))
    .attr("y", p.top).attr("height", PH).attr("fill", "#bdbdbd").attr("fill-opacity", 0.6);
}
drawVis(pF);
plumePeriods.forEach((periods, k) => {
  pF.bg.selectAll("rect.pl" + k).data(periods).join("rect").attr("class", "pl" + k)
    .attr("x", d => x(d[0])).attr("width", d => x(d[1]) - x(d[0]))
    .attr("y", pF.y(k + 1) - 4).attr("height", 8)
    .attr("fill", plumeColors[k]).attr("stroke", plumeColors[k]).attr("stroke-opacity", 0.45).attr("stroke-width", 1.2);
});
drawGrid(pF, [1, 2, 3, 4]);
drawAxes(pF, { ticks: [1, 2, 3, 4], fmt: d => plumeNames[d - 1], letter: "F" });
legend(pF, 77, 43.3, 131, plumeNames.map((n, k) => ({ type: "patch", color: plumeColors[k], h: 7.5, label: "Plume " + n })));
axisTitle(32, pF.top + PH / 2, ["Plume presence"]);

// ---- G ----
const pG = makePanel(6, [0, 1.25]);
drawVis(pG);
drawGrid(pG, [0.25, 0.5, 0.75, 1.0]);
pG.fg.append("path").datum(plumeBand).attr("d", band(pG.y)).attr("fill", "#d7bdf5").attr("fill-opacity", 0.7);
pG.fg.append("path").datum(plumeArea).attr("d", line(pG.y)).attr("fill", "none")
  .attr("stroke", "#6c1fd0").attr("stroke-width", 1.0);
pG.fg.selectAll("path.mx").data(maxExtent).join("path").attr("class", "mx")
  .attr("d", d => `M${x(d) - 2.5},${pG.y(1)}H${x(d) + 2.5}M${x(d)},${pG.y(1) - 2.5}V${pG.y(1) + 2.5}`)
  .attr("stroke", "#000").attr("stroke-width", 1);
drawAxes(pG, { ticks: [0, 0.5, 1.0], minor: [0.25, 0.75], fmt: fmt1, letter: "G", dates: true });
legend(pG, 77, 65.7, 252, [
  { type: "line", color: "#6c1fd0", label: "Total plume surface area" },
  { type: "plus", label: "Max. plume extent" },
  { type: "patch", color: "#d3d3d3", h: 11.7, label: "Limited visibility" }]);
axisTitle(28, pG.top + PH / 2, ["Area (km", ["2"], ")"]);

svg.append("text").attr("x", 591).attr("y", 1250).attr("text-anchor", "middle")
  .attr("font-size", 19.5).attr("fill", "#000").text("2014");
</script>
</body>
</html>
